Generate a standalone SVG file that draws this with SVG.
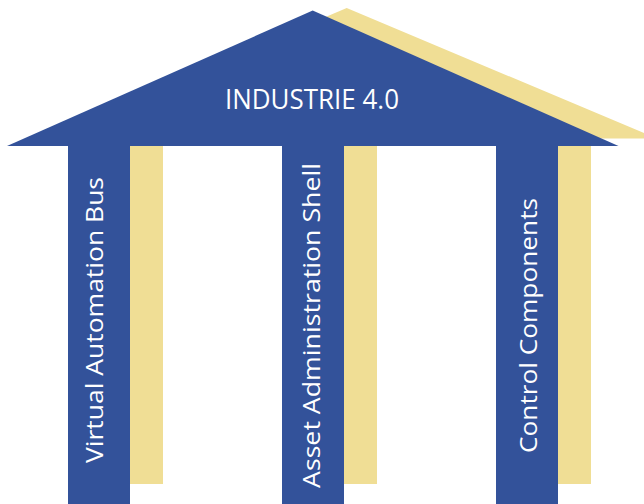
<svg xmlns="http://www.w3.org/2000/svg" width="644" height="504" viewBox="0 0 644 504">
  <style>
    .blue { fill: #33529a; }
    .shadow { fill: #f0de95; }
    .lbl { fill: #ffffff; font-family: "Open Sans", "Noto Sans", "DejaVu Sans", sans-serif; }
  </style>
  <rect width="644" height="504" fill="#ffffff"/>
  <g id="roof">
    <polygon class="shadow" points="346.7,8 657,138.5 40,138.5"/>
    <polygon class="blue" points="312.7,10.5 618.5,146 7,146"/>
    <text class="lbl" x="312" y="109" font-size="27" text-anchor="middle" textLength="174" lengthAdjust="spacingAndGlyphs">INDUSTRIE 4.0</text>
  </g>
  <g id="pillar-vab">
    <rect class="shadow" x="130" y="146" width="33" height="338"/>
    <rect class="blue" x="68" y="146" width="62" height="358"/>
    <text class="lbl" transform="translate(103,463) rotate(-90)" font-size="24" textLength="286" lengthAdjust="spacingAndGlyphs">Virtual Automation Bus</text>
  </g>
  <g id="pillar-aas">
    <rect class="shadow" x="344" y="146" width="33" height="338"/>
    <rect class="blue" x="282" y="146" width="62" height="358"/>
    <text class="lbl" transform="translate(320,488) rotate(-90)" font-size="24" textLength="325" lengthAdjust="spacingAndGlyphs">Asset Administration Shell</text>
  </g>
  <g id="pillar-cc">
    <rect class="shadow" x="558" y="146" width="33" height="338"/>
    <rect class="blue" x="496" y="146" width="62" height="358"/>
    <text class="lbl" transform="translate(537,453) rotate(-90)" font-size="24" textLength="255" lengthAdjust="spacingAndGlyphs">Control Components</text>
  </g>
  <g id="connectors"/>
</svg>
